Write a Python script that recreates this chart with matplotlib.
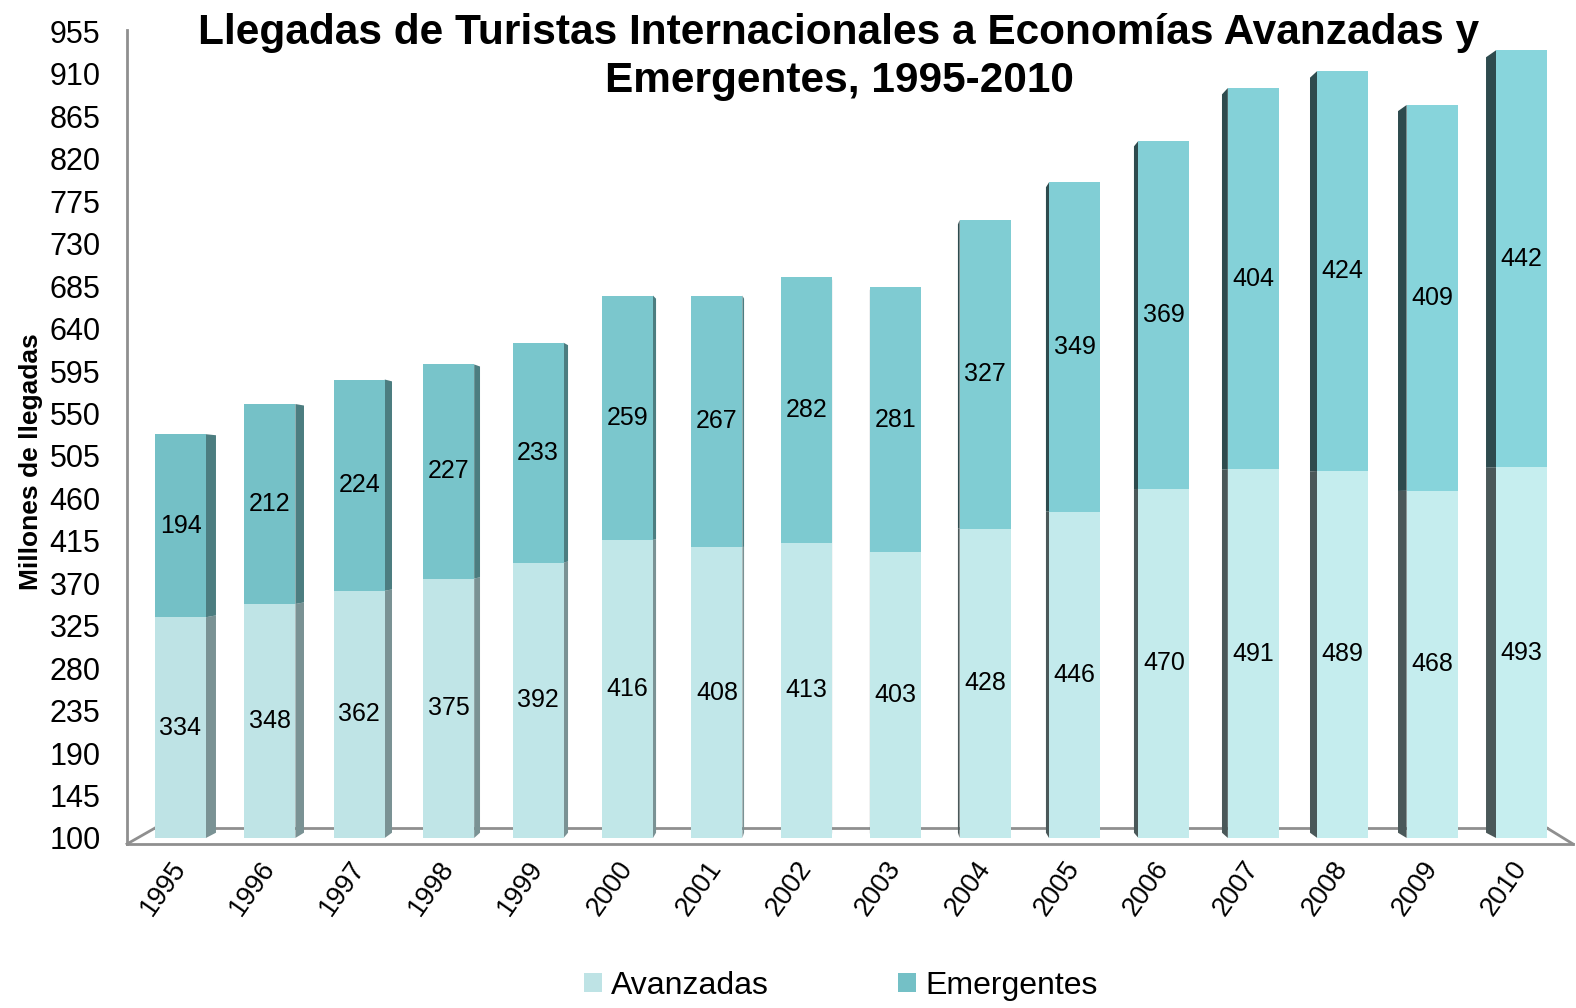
import numpy as np
import matplotlib.pyplot as plt
from matplotlib.patches import Polygon
from matplotlib.colors import to_rgb

plt.rcParams['font.family'] = ['Liberation Sans', 'DejaVu Sans']

years = ['1995', '1996', '1997', '1998', '1999', '2000', '2001', '2002',
         '2003', '2004', '2005', '2006', '2007', '2008', '2009', '2010']
avanzadas = np.array([334, 348, 362, 375, 392, 416, 408, 413,
                      403, 428, 446, 470, 491, 489, 468, 493])
emergentes = np.array([194, 212, 224, 227, 233, 259, 267, 282,
                       281, 327, 349, 369, 404, 424, 409, 442])
yticks = np.arange(100, 956, 45)

base = 100          # axis floor, bars start here
ymin, ymax = 93.6, 956.5
x = np.arange(len(years))
w = 0.57
depth = 0.0155
vp_x, vp_y = 7.5, 458   # vanishing point (data units) for the fake 3D sides

def mix(c1, c2, t):
    a, b = np.array(to_rgb(c1)), np.array(to_rgb(c2))
    return tuple(a + (b - a) * t)

fig = plt.figure(figsize=(15.76, 10.08), dpi=100)
ax = fig.add_axes([127 / 1576, 1 - 844 / 1008, (1573 - 127) / 1576, (844 - 30) / 1008])
ax.set_xlim((127 - 180.5) / 89.4, (1573 - 180.5) / 89.4)
ax.set_ylim(ymin, ymax)

# floor
xl, xr = ax.get_xlim()
bx0, bx1 = (155 - 180.5) / 89.4, (1547 - 180.5) / 89.4
by = ymin + 16 / 0.945
floor = dict(color='#8F8F8F', lw=2, zorder=1, clip_on=False)
ax.plot([xl, xr], [ymin, ymin], **floor)
ax.plot([bx0, bx1], [by, by], **floor)
ax.plot([xl, bx0], [ymin, by], **floor)
ax.plot([xr, bx1], [ymin, by], **floor)

tops = avanzadas + emergentes
for i in x:
    t = i / (len(x) - 1)
    c_av = mix('#BEE3E5', '#C6EEEF', t)
    c_em = mix('#74C0C6', '#88D5DC', t)
    if i < vp_x:
        xe = i + w / 2
        s_av, s_em = '#7A9294', '#4C7D80'
    else:
        xe = i - w / 2
        s_av, s_em = '#4A5859', '#2E4B4E'
    dx = depth * (vp_x - xe)
    for y0, y1, sc in [(base, avanzadas[i], s_av), (avanzadas[i], tops[i], s_em)]:
        pts = [(xe, y0), (xe + dx, y0 + depth * (vp_y - y0)),
               (xe + dx, y1 + depth * (vp_y - y1)), (xe, y1)]
        ax.add_patch(Polygon(pts, closed=True, fc=sc, ec='none', zorder=2))
    ax.bar(i, avanzadas[i] - base, bottom=base, width=w, color=c_av, zorder=3,
           label='Avanzadas' if i == 0 else None)
    ax.bar(i, emergentes[i], bottom=avanzadas[i], width=w, color=c_em, zorder=3,
           label='Emergentes' if i == 0 else None)
    ax.text(i, (base + avanzadas[i]) / 2, str(avanzadas[i]), ha='center', va='center',
            fontsize=18, zorder=4)
    ax.text(i, avanzadas[i] + emergentes[i] / 2, str(emergentes[i]), ha='center',
            va='center', fontsize=18, zorder=4)

ax.set_yticks(yticks)
ax.set_yticklabels([str(v) for v in yticks], fontsize=22)
ax.tick_params(axis='y', length=0, pad=19)
ax.set_xticks(x)
ax.set_xticklabels(years, fontsize=19.5, rotation=55, ha='right', va='center',
                   rotation_mode='anchor')
ax.tick_params(axis='x', length=0, pad=14)
for s in ['top', 'right', 'bottom']:
    ax.spines[s].set_visible(False)
ax.spines['left'].set_color('#8F8F8F')
ax.spines['left'].set_linewidth(2)

ax.set_ylabel('Millones de llegadas', fontsize=19, fontweight='bold')
ax.yaxis.set_label_coords(-0.058, 0.47)

fig.text(839 / 1576, 1 - 57 / 1008,
         'Llegadas de Turistas Internacionales a Economías Avanzadas y\nEmergentes, 1995-2010',
         ha='center', va='center', fontsize=30.5, fontweight='bold', linespacing=1.25)

h, l = ax.get_legend_handles_labels()
fig.legend(h, l, loc='center', bbox_to_anchor=(841 / 1576, 1 - 986 / 1008), ncol=2,
           frameon=False, fontsize=23, handlelength=0.55, handleheight=0.55,
           handletextpad=0.3, columnspacing=4.05)

fig.savefig('out.png', dpi=100)
